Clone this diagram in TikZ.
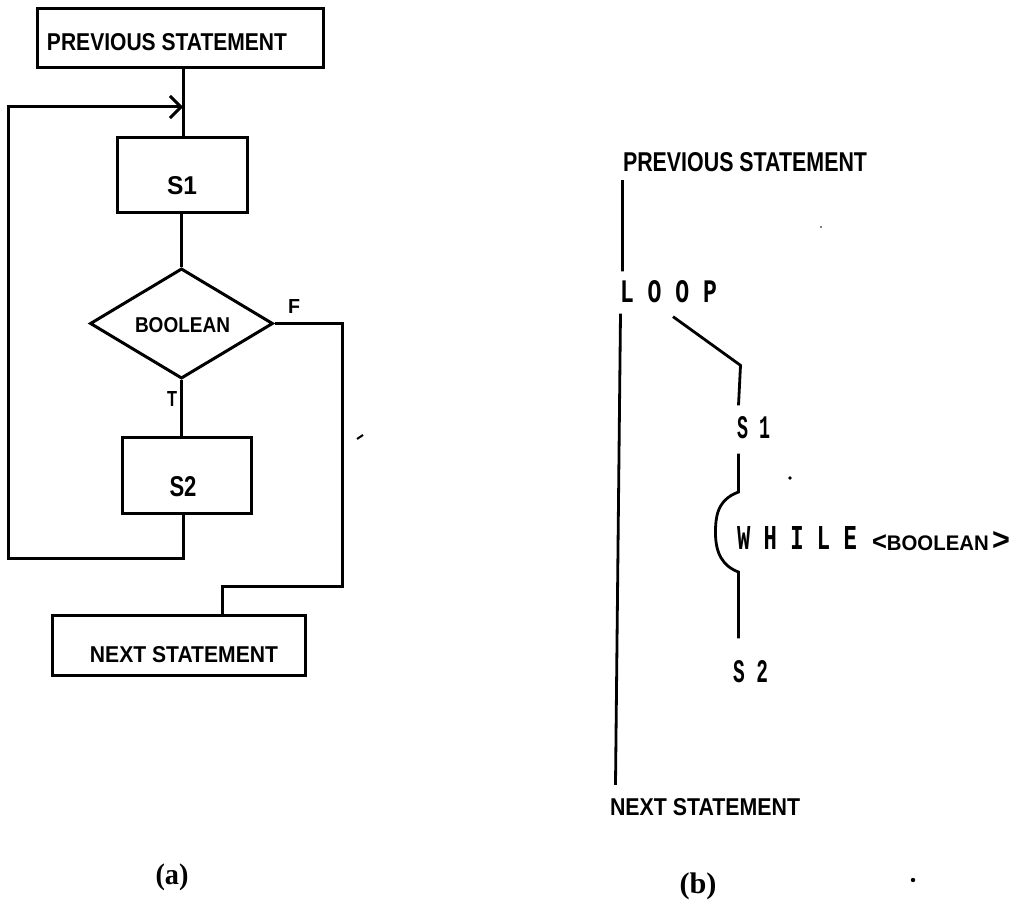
\documentclass[tikz,border=0pt]{standalone}
\usepackage{fontspec}
\setmainfont{Liberation Serif}
\newfontfamily\hsans{Liberation Sans}
\newfontfamily\hmono{Liberation Mono}
\usetikzlibrary{arrows.meta,shapes.geometric,calc}
\newcommand{\fitw}[3]{\resizebox{#1pt}{#2pt}{#3}}
\newcommand{\fitt}[3]{\resizebox*{#1pt}{#2pt}{#3}}
% shift content visually by #1 right and #2 down without changing its box
\newcommand{\shiftc}[3]{\raisebox{-#2pt}[\height][\depth]{\hspace*{#1pt}#3\hspace*{-#1pt}}}
\begin{document}
\begin{tikzpicture}[x=1pt,y=-1pt,
  line width=3pt,
  box/.style={draw, rectangle, inner sep=0pt, line width=3pt, font=\hsans\bfseries},
  dec/.style={draw, diamond, inner sep=0pt, minimum width=183pt, minimum height=105pt, line width=3pt, font=\hsans\bfseries},
  lbl/.style={inner sep=0pt, font=\hsans\bfseries},
  mlbl/.style={inner sep=0pt, font=\hmono\bfseries},
  captxt/.style={inner sep=0pt, font=\bfseries},
  flow/.style={line width=3pt},
  bline/.style={line width=2.8pt},
  tip/.style={-{Straight Barb[length=11pt,width=22pt]}}
]
\useasboundingbox (0,0) rectangle (1019,901);

% ---------------- (a) flowchart ----------------
\node[box, minimum width=286pt, minimum height=59pt] (prev) at (180,38.5) {\shiftc{-13}{3.5}{\fitw{240}{17}{PREVIOUS STATEMENT}}};
\node[box, minimum width=130pt, minimum height=75pt] (s1) at (182,175.5) {\shiftc{0}{10}{\fitw{30}{18}{S1}}};
\node[dec] (bool) at (181.5,323.5) {\shiftc{1}{1.5}{\fitw{95}{15}{BOOLEAN}}};
\node[box, minimum width=129pt, minimum height=76pt] (s2) at (186.5,475) {\shiftc{-3.5}{12}{\fitw{27}{20}{S2}}};
\node[box, minimum width=253pt, minimum height=60pt] (next) at (178.5,645) {\shiftc{5.5}{10}{\fitw{188}{16}{NEXT STATEMENT}}};
\node[lbl] (tl) at (172,399) {\fitw{10}{15}{T}};
\node[lbl] (fl) at (294,306) {\fitw{12}{14}{F}};

\coordinate (join) at (183,107);
\coordinate (ret) at (8,558);
\coordinate (fr) at (342,586);
\coordinate (fk) at (222,586);

\draw[flow] (join |- prev.south) -- (join |- s1.north);
\draw[flow] (bool.north |- s1.south) -- (bool.north);
\draw[flow] (bool.south) -- (bool.south |- s2.north);
\draw[flow,tip] (s2.south -| join) -- (join |- ret) -- (ret) -- (ret |- join) -- (join);
\draw[flow] (bool.east) -| (fr) -- (fk) -- (fk |- next.north);

\node[captxt] (capa) at (172,877) {\fitt{33}{27}{(a)}};

% ---------------- (b) structured form ----------------
\node[lbl] (bprev) at (745,162) {\fitw{244}{19}{PREVIOUS STATEMENT}};
\node[mlbl] (loop) at (668.5,292) {\fitw{97}{22}{L O O P}};
\node[mlbl] (bs1) at (753.5,428) {\fitw{33}{22}{S 1}};
\node[mlbl] (while) at (797,538) {\fitw{120}{23}{W H I L E}};
\node[lbl] (bbool) at (941,541) {\fitw{138}{19}{\scalebox{1.25}{<}BOOLEAN\,\scalebox{1.5}{>}}};
\node[mlbl] (bs2) at (750.5,672) {\fitw{35}{22}{S 2}};
\node[lbl] (bnext) at (705,807) {\fitw{190}{17}{NEXT STATEMENT}};
\node[captxt] (capb) at (698,886) {\fitt{37}{27}{(b)}};

\draw[bline] ($(bprev.south west)+(1,7)$) -- ($(loop.north west)+(4,-8)$);
\draw[bline] ($(loop.south west)+(2,9)$) -- ($(bnext.north west)+(7,-12)$);
\draw[bline] ($(loop.south)+(4.5,12)$) -- ($(bs1.north west)+(5,-50)$) -- ($(bs1.north west)+(3,-10)$);
\draw[bline] ($(bs1.south west)+(3,13)$) -- ($(while.west)+(3,-46)$)
   .. controls +(-22,8) and +(0,-15) .. ++(-23,41)
   .. controls +(0,20) and +(-16,-6) .. ++(23,39)
   -- ($(bs2.north west)+(7,-21)$);

% scan specks
\draw[line width=2pt] (357,439) -- (363,435);
\fill (790,478) circle (1.8pt);
\fill (913,880) circle (2.2pt);
\fill (821,227) circle (0.9pt);
\end{tikzpicture}
\end{document}
